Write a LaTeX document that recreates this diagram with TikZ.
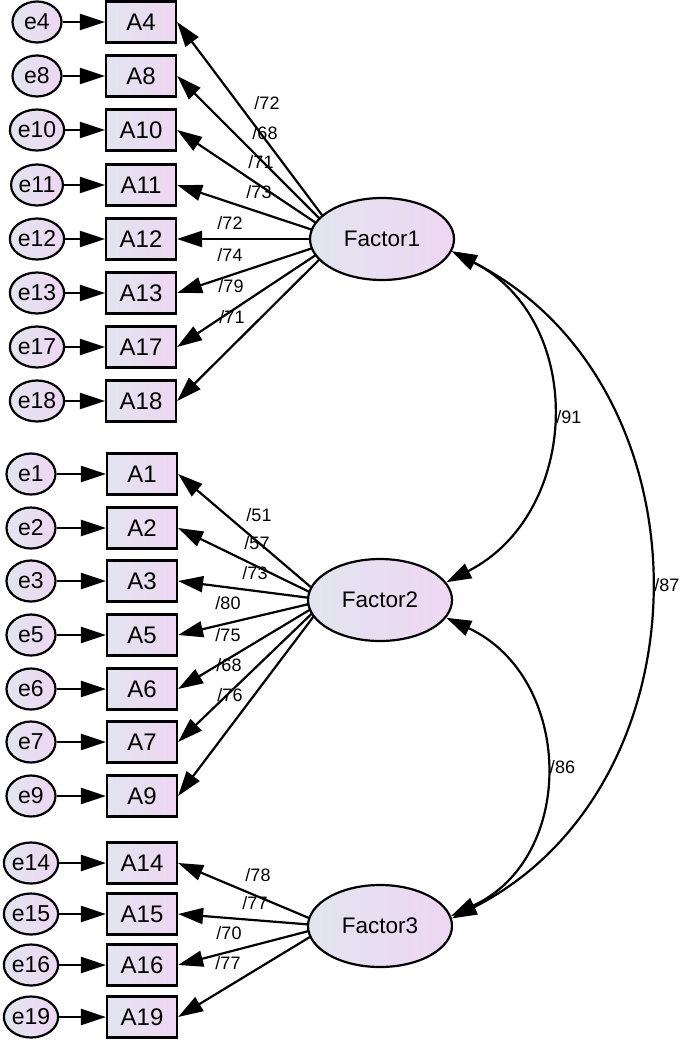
\documentclass[tikz,border=0pt]{standalone}
\usepackage{fontspec}
\setmainfont{Liberation Sans}
\usetikzlibrary{shapes.geometric,arrows.meta}
\definecolor{fillleft}{RGB}{226,229,240}
\definecolor{fillright}{RGB}{238,214,242}

\begin{document}
\begin{tikzpicture}[x=1pt,y=1pt]
    \useasboundingbox (0,0) rectangle (685,-1043);
    \tikzstyle{every node}+=[inner sep=0pt]
    \tikzstyle{err}=[ellipse,draw,line width=2.2pt,minimum width=49pt,minimum height=41pt,left color=fillleft,right color=fillright,font=\fontsize{23}{25}\selectfont]
    \tikzstyle{item}=[rectangle,draw,line width=2.2pt,minimum width=70pt,minimum height=41pt,left color=fillleft,right color=fillright,font=\fontsize{24}{26}\selectfont]
    \tikzstyle{factor}=[ellipse,draw,line width=2.2pt,minimum width=144pt,minimum height=82pt,left color=fillleft,right color=fillright,font=\fontsize{22.5}{24}\selectfont]
    \tikzstyle{arr}=[line width=2.2pt,-{Triangle[length=25pt,width=16pt]}]
    \tikzstyle{cov}=[line width=2.2pt,{Triangle[length=25pt,width=16pt]}-{Triangle[length=25pt,width=16pt]}]
    \tikzstyle{lbl}=[font=\fontsize{18}{20}\selectfont]
    % first group
    \node [item] (A4) at (141,-22) {A4};
    \node [item] (A8) at (141,-76) {A8};
    \node [item] (A10) at (141,-130) {A10};
    \node [item] (A11) at (141,-185) {A11};
    \node [item] (A12) at (141,-239) {A12};
    \node [item] (A13) at (141,-293) {A13};
    \node [item] (A17) at (141,-347) {A17};
    \node [item] (A18) at (141,-401) {A18};
    \node [err] (e4) at (37,-22) {e4};
    \node [err] (e8) at (37,-76) {e8};
    \node [err] (e10) at (37,-130) {e10};
    \node [err] (e11) at (37,-185) {e11};
    \node [err] (e12) at (37,-239) {e12};
    \node [err] (e13) at (37,-293) {e13};
    \node [err] (e17) at (37,-347) {e17};
    \node [err] (e18) at (37,-401) {e18};
    % second group
    \node [item] (A1) at (142,-474) {A1};
    \node [item] (A2) at (142,-528) {A2};
    \node [item] (A3) at (142,-581) {A3};
    \node [item] (A5) at (142,-635) {A5};
    \node [item] (A6) at (142,-689) {A6};
    \node [item] (A7) at (142,-742) {A7};
    \node [item] (A9) at (142,-796) {A9};
    \node [err] (e1) at (31,-474) {e1};
    \node [err] (e2) at (31,-528) {e2};
    \node [err] (e3) at (31,-581) {e3};
    \node [err] (e5) at (31,-635) {e5};
    \node [err] (e6) at (31,-689) {e6};
    \node [err] (e7) at (31,-742) {e7};
    \node [err] (e9) at (31,-796) {e9};
    % third group
    \node [item] (A14) at (142,-863) {A14};
    \node [item] (A15) at (142,-914) {A15};
    \node [item] (A16) at (142,-965) {A16};
    \node [item] (A19) at (142,-1017) {A19};
    \node [err] (e14) at (31,-863) {e14};
    \node [err] (e15) at (31,-914) {e15};
    \node [err] (e16) at (31,-965) {e16};
    \node [err] (e19) at (31,-1017) {e19};
    % error paths
    \draw [arr] (e4) -- (A4);
    \draw [arr] (e8) -- (A8);
    \draw [arr] (e10) -- (A10);
    \draw [arr] (e11) -- (A11);
    \draw [arr] (e12) -- (A12);
    \draw [arr] (e13) -- (A13);
    \draw [arr] (e17) -- (A17);
    \draw [arr] (e18) -- (A18);
    \draw [arr] (e1) -- (A1);
    \draw [arr] (e2) -- (A2);
    \draw [arr] (e3) -- (A3);
    \draw [arr] (e5) -- (A5);
    \draw [arr] (e6) -- (A6);
    \draw [arr] (e7) -- (A7);
    \draw [arr] (e9) -- (A9);
    \draw [arr] (e14) -- (A14);
    \draw [arr] (e15) -- (A15);
    \draw [arr] (e16) -- (A16);
    \draw [arr] (e19) -- (A19);
    % loadings leave from a point inside each factor, the factor is drawn on top
    \coordinate (h1) at (340,-239);
    \coordinate (h2) at (326,-600);
    \coordinate (h3) at (328,-926);
    \draw [arr] (h1) -- (A4.east);
    \draw [arr] (h1) -- (A8.east);
    \draw [arr] (h1) -- (A10.east);
    \draw [arr] (h1) -- (A11.east);
    \draw [arr] (h1) -- (A12.east);
    \draw [arr] (h1) -- (A13.east);
    \draw [arr] (h1) -- (A17.east);
    \draw [arr] (h1) -- (A18.east);
    \draw [arr] (h2) -- (A1.east);
    \draw [arr] (h2) -- (A2.east);
    \draw [arr] (h2) -- (A3.east);
    \draw [arr] (h2) -- (A5.east);
    \draw [arr] (h2) -- (A6.east);
    \draw [arr] (h2) -- (A7.east);
    \draw [arr] (h2) -- (A9.east);
    \draw [arr] (h3) -- (A14.east);
    \draw [arr] (h3) -- (A15.east);
    \draw [arr] (h3) -- (A16.east);
    \draw [arr] (h3) -- (A19.east);
    % factors
    \node [factor] (f1) at (382,-239) {Factor1};
    \node [factor] (f2) at (380,-600) {Factor2};
    \node [factor] (f3) at (380,-926) {Factor3};
    % loading values
    \node [lbl] (l4) at (267,-103) {/72};
    \node [lbl] (l8) at (265,-133) {/68};
    \node [lbl] (l10) at (261,-162) {/71};
    \node [lbl] (l11) at (259,-192) {/73};
    \node [lbl] (l12) at (230,-223) {/72};
    \node [lbl] (l13) at (230,-255) {/74};
    \node [lbl] (l17) at (231,-286) {/79};
    \node [lbl] (l18) at (232,-317) {/71};
    \node [lbl] (l1) at (259,-515) {/51};
    \node [lbl] (l2) at (257,-543) {/57};
    \node [lbl] (l3) at (255,-573) {/73};
    \node [lbl] (l5) at (228,-603) {/80};
    \node [lbl] (l6) at (228,-635) {/75};
    \node [lbl] (l7) at (229,-665) {/68};
    \node [lbl] (l9) at (230,-695) {/76};
    \node [lbl] (l14) at (258,-875) {/78};
    \node [lbl] (l15) at (255,-903) {/77};
    \node [lbl] (l16) at (229,-933) {/70};
    \node [lbl] (l19) at (228,-963) {/77};
    % covariances
    \draw [cov] (f1.-10) to[out=-27,in=27,looseness=1.17] node[lbl,right=5pt] (c12) {/91} (f2.15);
    \draw [cov] (f2.-15) to[out=-25,in=25,looseness=1.2] node[lbl,right=5pt] (c23) {/86} (f3.8);
    \draw [cov] (f1.-10) to[out=-27,in=27,looseness=1.13] node[lbl,right=5pt] (c13) {/87} (f3.6);
\end{tikzpicture}
\end{document}
